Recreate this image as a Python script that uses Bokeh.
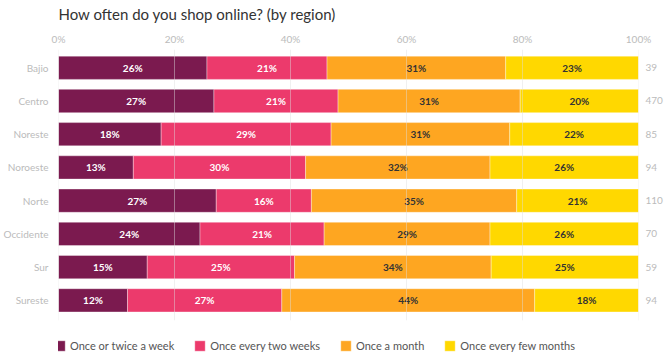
from bokeh.plotting import figure
from bokeh.models import (Range1d, FixedTicker, LinearAxis, Legend, LegendItem,
                          ColumnDataSource, PrintfTickFormatter)
from bokeh.core.properties import value
from bokeh.embed import file_html
from bokeh.resources import INLINE

regions = ["Bajio", "Centro", "Noreste", "Noroeste", "Norte", "Occidente", "Sur", "Sureste"]
series = ["Once or twice a week", "Once every two weeks", "Once a month", "Once every few months"]
weekly = [25.6, 26.8, 17.7, 12.9, 27.2, 24.4, 15.3, 11.9]
biweekly = [20.7, 21.4, 29.3, 29.7, 16.4, 21.4, 25.4, 26.6]
monthly = [30.8, 31.4, 30.8, 31.8, 35.4, 28.6, 33.9, 43.6]
few_months = [22.9, 20.4, 22.2, 25.6, 21.0, 25.6, 25.4, 17.9]
n_resp = [39, 470, 85, 94, 110, 70, 59, 94]
x_ticks = [0, 20, 40, 60, 80, 100]

colors = ["#7b1a4f", "#ec3a6c", "#fea621", "#ffd800"]
label_colors = ["#ffffff", "#ffffff", "#333333", "#333333"]
FONT = "Lato"

ypos = list(range(len(regions)))
y_top, y_grid_end = -0.55, 7.6

p = figure(width=665, height=352, output_backend="svg", toolbar_location=None,
           x_range=Range1d(0, 100), y_range=Range1d(8.57, y_top),
           x_axis_location="above", min_border_left=57, min_border_right=26,
           min_border_top=0, min_border_bottom=0, outline_line_color=None,
           y_axis_type=None)

p.title.text = "How often do you shop online? (by region)"
p.title.text_font = FONT
p.title.text_font_size = "15px"
p.title.text_font_style = "normal"
p.title.text_color = "#333333"
p.title.align = "left"
p.title.vertical_align = "top"
p.title.standoff = 9
p.title.text_line_height = 0.5

data_series = [weekly, biweekly, monthly, few_months]
renderers = []
left = [0.0] * len(regions)
for vals, col, lcol in zip(data_series, colors, label_colors):
    right = [l + v for l, v in zip(left, vals)]
    src = ColumnDataSource(dict(y=ypos, left=left, right=right,
                                mid=[(l + r) / 2 for l, r in zip(left, right)],
                                lab=[f"{v:.0f}%" for v in vals]))
    r = p.hbar(y="y", left="left", right="right", height=0.7, source=src,
               fill_color=col, line_color="#ffffff", line_alpha=0.35, line_width=1)
    p.text(x="mid", y="y", text="lab", source=src, text_align="center",
           text_baseline="middle", text_color=lcol, text_font=value(FONT),
           text_font_size="10px", text_font_style="bold")
    renderers.append(r)
    left = right

# vertical grid lines at the tick positions, drawn over the bars
p.segment(x0=x_ticks, x1=x_ticks, y0=[y_top] * len(x_ticks), y1=[y_grid_end] * len(x_ticks),
          line_color="#dddddd", line_alpha=0.45, line_width=1)

# top axis
xa = p.xaxis[0]
xa.ticker = FixedTicker(ticks=x_ticks)
xa.formatter = PrintfTickFormatter(format="%d%%")
xa.axis_line_color = None
xa.major_tick_line_color = None
xa.minor_tick_line_color = None
xa.major_tick_out = 0
xa.major_tick_in = 0
xa.minor_tick_out = 0
xa.major_label_text_color = "#bbbbbb"
xa.major_label_text_font = FONT
xa.major_label_text_font_size = "10px"
xa.major_label_standoff = 5

p.xgrid.grid_line_color = None
p.ygrid.grid_line_color = None

ya = LinearAxis(ticker=FixedTicker(ticks=ypos),
                major_label_overrides={i: r for i, r in enumerate(regions)})
yr = LinearAxis(ticker=FixedTicker(ticks=ypos),
                major_label_overrides={i: str(n) for i, n in enumerate(n_resp)})
for ax, so in ((ya, 10), (yr, 7)):
    ax.axis_line_color = None
    ax.major_tick_line_color = None
    ax.minor_tick_line_color = None
    ax.major_tick_out = 0
    ax.major_tick_in = 0
    ax.minor_tick_out = 0
    ax.major_label_text_color = "#bbbbbb"
    ax.major_label_text_font = FONT
    ax.major_label_text_font_size = "10px"
    ax.major_label_standoff = so
p.add_layout(ya, "left")
p.add_layout(yr, "right")

legend = Legend(items=[LegendItem(label=s, renderers=[r]) for s, r in zip(series, renderers)],
                orientation="horizontal", location=(-5, 0),
                border_line_color=None, background_fill_alpha=0,
                padding=0, margin=0, glyph_width=13, glyph_height=13,
                label_standoff=4, spacing=19,
                label_text_font=FONT, label_text_font_size="11px",
                label_text_color="#555555")
p.add_layout(legend, "center")

open("out.html", "w").write(file_html(p, INLINE))
